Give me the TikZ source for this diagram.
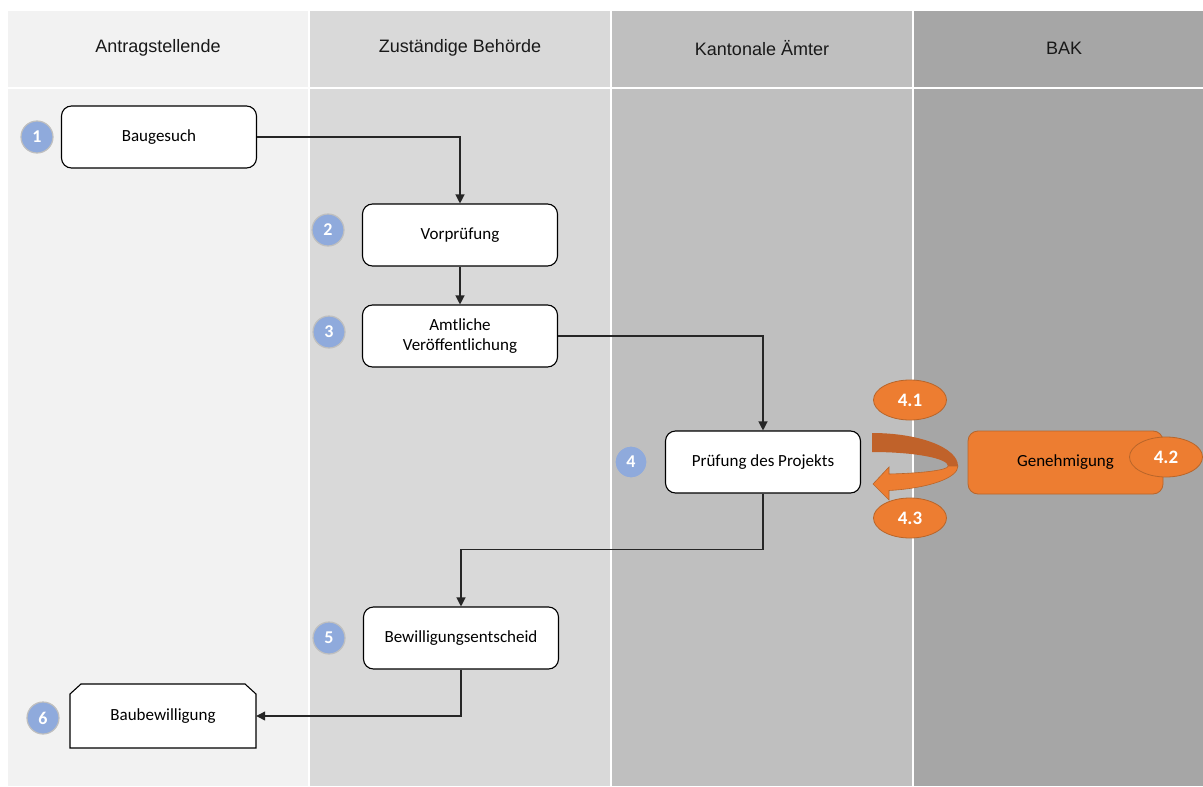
\documentclass[tikz,border=0pt]{standalone}
\usepackage{fontspec}
\setmainfont{Carlito}
\newfontfamily\arialfont{Liberation Sans}
\usetikzlibrary{shapes.geometric,arrows.meta}
\definecolor{laneA}{HTML}{F2F2F2}
\definecolor{laneB}{HTML}{D9D9D9}
\definecolor{laneC}{HTML}{BFBFBF}
\definecolor{laneD}{HTML}{A6A6A6}
\definecolor{badgeblue}{HTML}{8FAADC}
\definecolor{orangeA}{HTML}{ED7D31}
\definecolor{orangeB}{HTML}{C0622A}
\definecolor{orangeLine}{HTML}{B8652A}
\tikzset{
  headtext/.style={font=\arialfont\fontsize{18}{20}\selectfont, text=black!90},
  stepbox/.style={draw=black, line width=1.1pt, rounded corners=10pt, fill=white,
    minimum width=195pt, minimum height=62pt, align=center, inner sep=2pt,
    font=\fontsize{17}{20}\selectfont},
  badge/.style={circle, fill=badgeblue, draw=black!25, line width=1.2pt, minimum size=32pt,
    inner sep=0pt, text=white, font=\bfseries\fontsize{18}{20}\selectfont},
  oval/.style={ellipse, fill=orangeA, draw=orangeLine, line width=0.8pt, minimum width=73pt,
    minimum height=40pt, inner sep=0pt, text=white, font=\bfseries\fontsize{19}{21}\selectfont},
  conn/.style={draw=black!85, line width=1.2pt, -{Triangle[length=9pt,width=9pt]}},
}
\begin{document}
\begin{tikzpicture}[x=1pt,y=-1pt]
\useasboundingbox (0,0) rectangle (1203,787);
\fill[white] (0,0) rectangle (1203,787);
% lanes
\fill[laneA] (8,11) rectangle (308,86.5);
\fill[laneA] (8,88.5) rectangle (308,786);
\fill[laneB] (310,11) rectangle (610,86.5);
\fill[laneB] (310,88.5) rectangle (610,786);
\fill[laneC] (612,11) rectangle (912,86.5);
\fill[laneC] (612,88.5) rectangle (912,786);
\fill[laneD] (914,11) rectangle (1203,86.5);
\fill[laneD] (914,88.5) rectangle (1203,786);
\node[headtext] (h1) at (158,48) {Antragstellende};
\node[headtext] (h2) at (460,48) {Zuständige Behörde};
\node[headtext] (h3) at (762,48) {Kantonale Ämter};
\node[headtext] (h4) at (1064,48) {BAK};
% steps
\node[stepbox] (baug) at (159,137) {Baugesuch};
\node[stepbox] (vorp) at (460,235) {Vorprüfung};
\node[stepbox] (amtl) at (460,336) {Amtliche\\Veröffentlichung};
\node[stepbox] (pruef) at (763,462) {Prüfung des Projekts};
\node[stepbox] (bewi) at (461,638) {Bewilligungsentscheid};
% document shape with chamfered top corners
\draw[line width=1.1pt, fill=white] (70,748) -- (70,694) -- (81,684) -- (245,684) -- (256,694) -- (256,748) -- cycle;
\node[minimum width=186pt, minimum height=64pt, inner sep=0pt, font=\fontsize{17}{20}\selectfont] (baub) at (163,716) {Baubewilligung};
% badges
\node[badge] (b1) at (37,137) {1};
\node[badge] (b2) at (328,230) {2};
\node[badge] (b3) at (329,332) {3};
\node[badge] (b4) at (631,462) {4};
\node[badge] (b5) at (329,638) {5};
\node[badge] (b6) at (43,718) {6};
% connectors
\draw[conn] (baug.east) -| (vorp.north);
\draw[conn] (vorp.south) -- (amtl.north);
\draw[conn] (amtl.east) -| (pruef.north);
\draw[conn] (pruef.south) -- ++(0,56) -| (bewi.north);
\draw[conn] (bewi.south) |- (baub.east);
% BAK
\node[draw=orangeLine, line width=0.8pt, fill=orangeA, rounded corners=10pt, minimum width=195pt,
  minimum height=63pt, font=\fontsize{17}{20}\selectfont] (gen) at (1065.5,462.5) {Genehmigung};
\node[oval] (o42) at (1166,457) {4.2};
\node[oval] (o41) at (910,400) {4.1};
\node[oval] (o43) at (910,518) {4.3};
% curved arrow
\fill[orangeB] (872,433) arc[start angle=-90, end angle=0, x radius=86, y radius=33]
  -- (948,466) arc[start angle=0, end angle=-90, x radius=76, y radius=14] -- cycle;
\fill[orangeA, draw=orangeLine, line width=0.6pt] (958,466) arc[start angle=0, end angle=78.6, x radius=86, y radius=25]
  -- (889,500) -- (873,484) -- (889,467) -- (889,474)
  arc[start angle=77.1, end angle=0, x radius=76, y radius=8] -- cycle;
\end{tikzpicture}
\end{document}
